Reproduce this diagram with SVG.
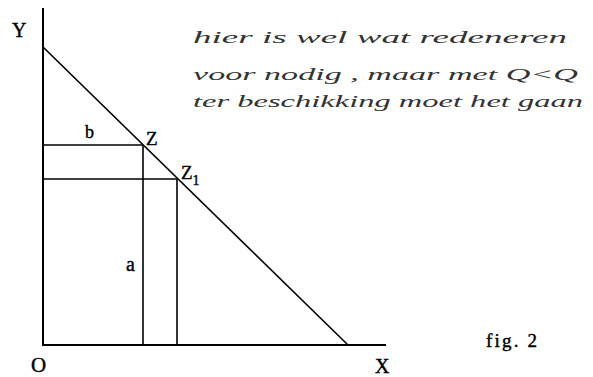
<svg xmlns="http://www.w3.org/2000/svg" width="593" height="377" viewBox="0 0 593 377">
<style>
.ax{stroke:#000;stroke-width:2;fill:none}
.ln{stroke:#000;stroke-width:1.6;fill:none}
.lb{fill:#000;stroke:#000;stroke-width:0.4}
.hw{font-style:italic;fill:#333;font-size:17px}
</style>
<rect width="593" height="377" fill="#fff"/>
<g id="connectors">
<line class="ax" x1="43" y1="8" x2="43" y2="346"/>
<line class="ax" x1="42" y1="345" x2="386" y2="345"/>
<line class="ln" x1="43" y1="47" x2="348" y2="345"/>
<line class="ln" x1="43" y1="145" x2="143" y2="145"/>
<line class="ln" x1="43" y1="179" x2="177" y2="179"/>
<line class="ln" x1="143" y1="145" x2="143" y2="345"/>
<line class="ln" x1="177" y1="179" x2="177" y2="345"/>
</g>
<g id="labels" font-family="'Liberation Serif', 'Times New Roman', 'DejaVu Serif', serif">
<text class="lb" x="12" y="37" font-size="20">Y</text>
<text class="lb" x="85" y="138" font-size="18">b</text>
<text class="lb" x="146" y="145" font-size="19">Z</text>
<text class="lb" x="181" y="179" font-size="19">Z<tspan font-size="14" dy="6">1</tspan></text>
<text class="lb" x="126" y="271" font-size="20">a</text>
<text class="lb" x="31" y="372" font-size="21">O</text>
<text class="lb" x="375" y="373" font-size="20">X</text>
<text class="lb" x="486" y="347" font-size="19" textLength="51" lengthAdjust="spacing">fig. 2</text>
</g>
<g id="note" font-family="'Liberation Serif', 'DejaVu Serif', serif">
<text class="hw" x="193" y="43" textLength="374" lengthAdjust="spacingAndGlyphs">hier is wel wat redeneren</text>
<text class="hw" x="193" y="80" textLength="385" lengthAdjust="spacingAndGlyphs">voor nodig , maar met Q&lt;Q</text>
<text class="hw" x="193" y="107" textLength="390" lengthAdjust="spacingAndGlyphs">ter beschikking moet het gaan</text>
</g>
</svg>
